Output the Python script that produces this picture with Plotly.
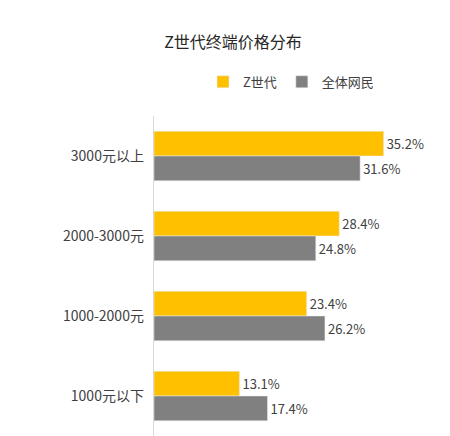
import plotly.graph_objects as go

categories = ["3000元以上", "2000-3000元", "1000-2000元", "1000元以下"]
gen_z = [35.2, 28.4, 23.4, 13.1]
all_users = [31.6, 24.8, 26.2, 17.4]

font = "Noto Sans CJK SC"

fig = go.Figure()
# with the reversed y axis the first trace sits on top of each group
fig.add_trace(go.Bar(
    y=categories, x=gen_z, orientation="h", name="Z世代",
    marker_color="#FFC000",
    text=[f"{v:.1f}%" for v in gen_z], textposition="outside",
    textfont=dict(size=13, color="#404040", family=font), cliponaxis=False,
))
fig.add_trace(go.Bar(
    y=categories, x=all_users, orientation="h", name="全体网民",
    marker_color="#808080",
    text=[f"{v:.1f}%" for v in all_users], textposition="outside",
    textfont=dict(size=13, color="#404040", family=font), cliponaxis=False,
))

fig.update_layout(
    width=450, height=436,
    paper_bgcolor="white", plot_bgcolor="white",
    font=dict(family=font, color="#404040"),
    title=dict(text="Z世代终端价格分布", x=0.5, xanchor="center", y=0.935,
               font=dict(size=16, color="#262626", family=font)),
    legend=dict(orientation="h", x=0.5, xanchor="center", y=1.06, yanchor="bottom",
                itemwidth=30, font=dict(size=13, color="#404040")),
    barmode="group", bargap=0.38, bargroupgap=0.0,
    margin=dict(l=146, r=30, t=108, b=8),
    xaxis=dict(range=[0, 42], visible=False),
    yaxis=dict(autorange="reversed", showline=True, linecolor="#d9d9d9",
               ticks="", tickfont=dict(size=14, color="#404040"), ticksuffix="  "),
)

fig.write_html("out.html")
